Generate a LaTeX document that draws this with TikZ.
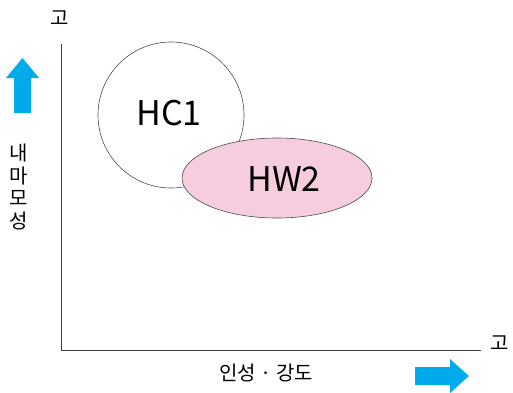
\documentclass[tikz,border=0pt]{standalone}
\usepackage{fontspec}
\usetikzlibrary{shapes.geometric}
\setmainfont{Noto Sans CJK KR}
\newfontfamily\kr{Noto Sans CJK KR}
\definecolor{arrowblue}{RGB}{0,170,235}
\definecolor{hwpink}{RGB}{245,205,222}
\begin{document}
\begin{tikzpicture}[x=1pt,y=-1pt,
  axis/.style={draw=black!75,line width=0.9pt},
  bluearrow/.style={fill=arrowblue,draw=none},
  lbl/.style={font=\kr\fontsize{20}{22.5}\selectfont,inner sep=0pt},
  big/.style={font=\kr\fontsize{34}{34}\selectfont,inner sep=0pt}]
\useasboundingbox (0,0) rectangle (513,392);
\coordinate (o) at (61,350);
\coordinate (ytop) at (61,44);
\coordinate (xend) at (481,350);
\draw[axis] (ytop) -- (o) -- (xend);
\node[lbl] (ty) at (60,18) {고};
\node[lbl] (tx) at (500,343) {고};
\node[lbl,align=center] (ylab) at (19,187) {내\\마\\모\\성};
\node[lbl] (xlab) at (266,373) {인성 · 강도};
% up arrow
\fill[bluearrow] (14,113) -- (14,78) -- (6,78) -- (22.5,58) -- (39,78) -- (31,78) -- (31,113) -- cycle;
% right arrow
\fill[bluearrow] (415,367) -- (450,367) -- (450,359) -- (469,376) -- (450,393) -- (450,385) -- (415,385) -- cycle;
\node[draw=black!70,line width=0.6pt,circle,minimum size=146pt,inner sep=0pt] (hc) at (171,115) {};
\node[big] (hct) at (169,113) {HC1};
\node[draw=black!70,line width=0.6pt,ellipse,fill=hwpink,minimum width=190pt,minimum height=80pt,inner sep=0pt] (hw) at (277,178) {};
\node[big] (hwt) at (284,179) {HW2};
\end{tikzpicture}
\end{document}
